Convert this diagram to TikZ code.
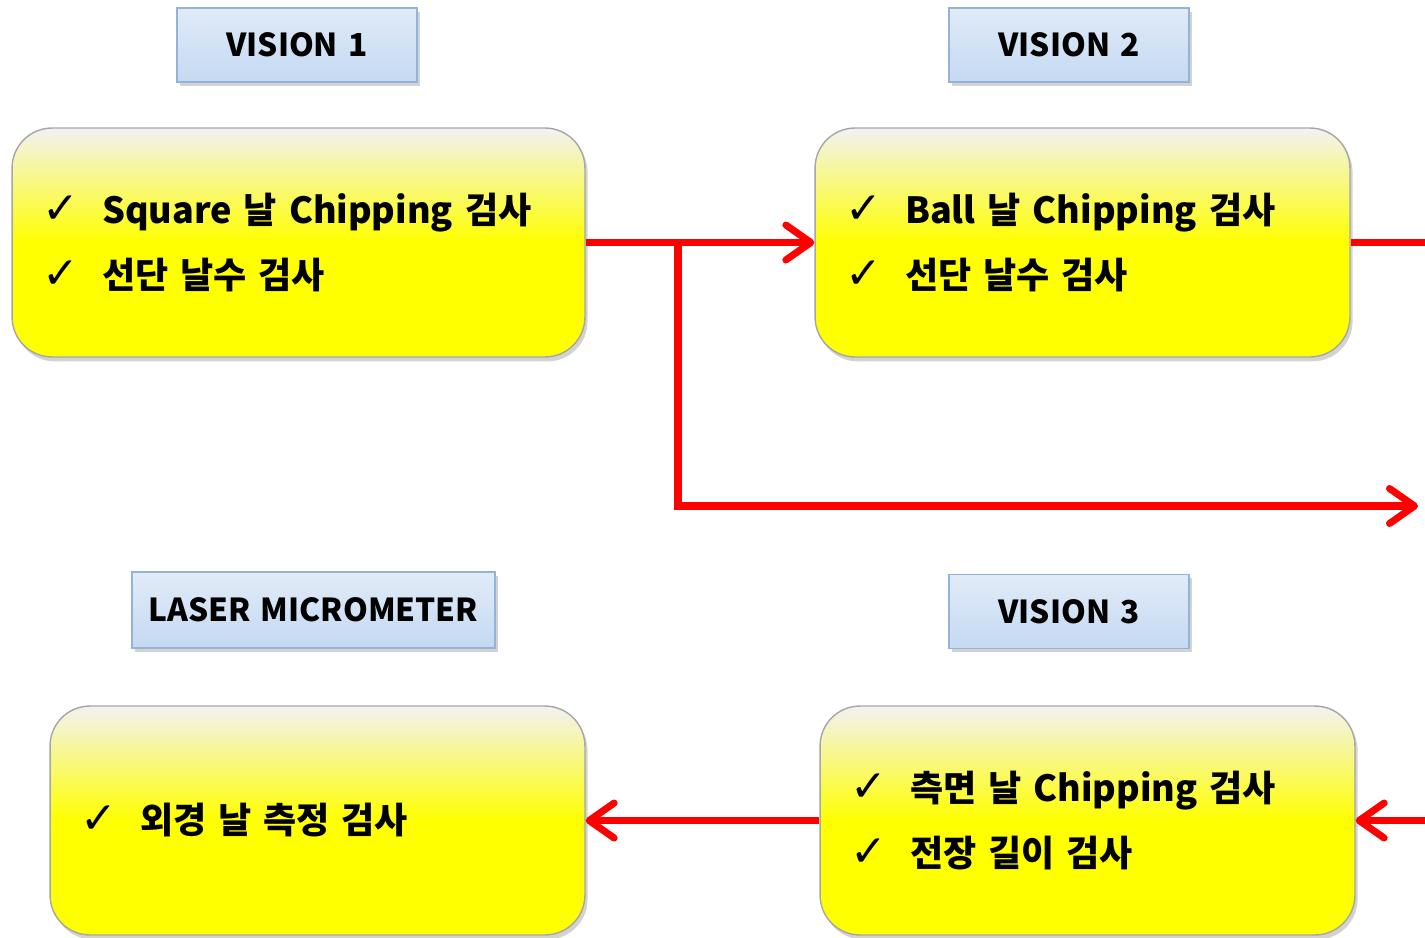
\documentclass[tikz,border=0pt]{standalone}
\usepackage{fontspec}
\usepackage{tikz}
\usetikzlibrary{arrows.meta, positioning, shadows}
\newfontfamily\krfont{Noto Sans CJK KR}[WordSpace=1.4]
\newfontfamily\symfont{DejaVu Sans}
\definecolor{tagtop}{HTML}{E1EBF8}
\definecolor{tagbot}{HTML}{C4D9F2}
\definecolor{tagline}{HTML}{95B3D7}
\definecolor{boxtop}{HTML}{F2F2F2}
\definecolor{boxline}{HTML}{A6A6A6}
\definecolor{flowred}{HTML}{FF0000}
\newcommand{\chk}{\makebox[1.2cm][l]{\symfont\mdseries\fontsize{25}{25}\selectfont ✓}}

\begin{document}
\begin{tikzpicture}[x=0.02cm, y=-0.02cm,
    stagetag/.style={draw=tagline, line width=0.8pt, top color=tagtop, bottom color=tagbot,
        minimum height=1.48cm, inner sep=0pt,
        drop shadow={shadow xshift=1.5pt, shadow yshift=-2pt, opacity=0.35},
        font=\krfont\bfseries\fontsize{18}{20}\selectfont},
    stagebox/.style={draw=boxline, line width=0.8pt, rounded corners=0.8cm,
        top color=boxtop, bottom color=yellow, middle color=yellow,
        minimum height=4.58cm, inner xsep=0.6cm, align=left,
        drop shadow={shadow xshift=1.5pt, shadow yshift=-2.5pt, opacity=0.35},
        font=\krfont\bfseries\fontsize{20.5}{37}\selectfont},
    flowline/.style={draw=flowred, line width=4pt,
        -{Straight Barb[length=0.5cm, width=0.7cm, round]}}]
    \useasboundingbox (0,0) rectangle (1425,937);

    % Stage names
    \node[stagetag, minimum width=4.8cm] (v1) at (297,45) {VISION 1};
    \node[stagetag, minimum width=4.8cm] (v2) at (1069,45) {VISION 2};
    \node[stagetag, minimum width=7.26cm, minimum height=1.52cm] (lm) at (313.5,610) {LASER MICROMETER};
    \node[stagetag, minimum width=4.8cm] (v3) at (1069,611.5) {VISION 3};

    % Inspection items
    \node[stagebox, minimum width=11.46cm, text width=10.26cm] (b1) at (298.5,242.5)
        {\chk Square 날 Chipping 검사\\ \chk 선단 날수 검사};
    \node[stagebox, minimum width=10.7cm, text width=9.5cm] (b2) at (1082.5,242.5)
        {\chk Ball 날 Chipping 검사\\ \chk 선단 날수 검사};
    \node[stagebox, minimum width=10.7cm, text width=9.5cm] (b3) at (317.5,820.5)
        {\chk 외경 날 측정 검사};
    \node[stagebox, minimum width=10.7cm, text width=9.5cm] (b4) at (1087.5,820.5)
        {\chk 측면 날 Chipping 검사\\ \chk 전장 길이 검사};

    % Flow
    \coordinate (split) at (678,242.5);
    \coordinate (outtop) at (1425,242.5);
    \coordinate (outmid) at (1418,506);
    \coordinate (inbot) at (1425,820.5);
    \draw[flowline] (b1.east) -- (b2.west);
    \draw[flowline] (split) |- (outmid);
    \draw[flowline, -] (b2.east) -- (outtop);
    \draw[flowline] (inbot) -- (b4.east);
    \draw[flowline] (b4.west) -- (b3.east);
\end{tikzpicture}
\end{document}
